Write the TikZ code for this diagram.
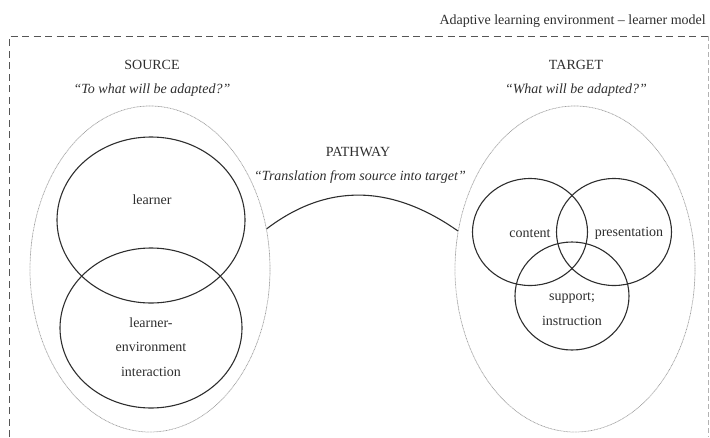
\documentclass[tikz,border=0pt]{standalone}
\usepackage{fontspec}
\setmainfont{Liberation Serif}
\usetikzlibrary{shapes.geometric}
\definecolor{ink}{HTML}{2E2E2E}
\definecolor{frame}{HTML}{555555}
\begin{document}
\begin{tikzpicture}[x=1pt,y=-1pt,
  font=\fontsize{14}{24.5}\selectfont, text=ink,
  region/.style={ellipse, draw=gray!75, line width=0.7pt,
    dash pattern=on 0.9pt off 0.6pt, inner sep=0pt},
  set/.style={ellipse, draw=ink, line width=1.1pt, inner sep=0pt},
  label/.style={anchor=base, inner sep=0pt},
  block/.style={align=center, inner sep=0pt},
  heading/.style={anchor=base, inner sep=0pt},
  question/.style={anchor=base, inner sep=0pt, font=\fontsize{14}{24.5}\selectfont\itshape}]
  \useasboundingbox (0,0) rectangle (710,437);

  % environment frame (open at the bottom)
  \draw[frame, line width=0.9pt, dash pattern=on 7pt off 4.5pt]
    (9,437) -- (9,36) -- (708,36);
  \draw[gray!60, line width=0.6pt, dash pattern=on 5pt off 3pt]
    (708,36) -- (708,437);
  \node[anchor=base east, inner sep=0pt] (title) at (706,24)
    {Adaptive learning environment – learner model};

  % source side
  \node[heading] (srchead) at (152,69) {SOURCE};
  \node[question] (srcq) at (152,93) {“To what will be adapted?”};
  \node[region, minimum width=240, minimum height=326] (src) at (150,269) {};
  \node[set, minimum width=188, minimum height=166] (learner) at (151,220) {};
  \node[set, minimum width=182, minimum height=160] (interact) at (151,328) {};
  \node[label] (learnertxt) at (152,204) {learner};
  \node[block] (interacttxt) at (151,347)
    {learner-\\environment\\interaction};

  % target side
  \node[heading] (tgthead) at (576,69) {TARGET};
  \node[question] (tgtq) at (576,93) {“What will be adapted?”};
  \node[region, minimum width=240, minimum height=326] (tgt) at (575,269) {};
  \node[set, minimum width=115, minimum height=107] (content) at (530,232) {};
  \node[set, minimum width=115, minimum height=107] (present) at (614,232) {};
  \node[set, minimum width=114, minimum height=108] (support) at (572,296) {};
  \node[label] (contenttxt) at (530,237) {content};
  \node[label] (presenttxt) at (629,236) {presentation};
  \node[block] (supporttxt) at (572,309) {support;\\instruction};

  % pathway between source and target
  \node[heading] (pathhead) at (358,156) {PATHWAY};
  \node[question] (pathq) at (360,180) {“Translation from source into target”};
  \draw[ink, line width=1.1pt]
    (src.19) .. controls (327,183) and (391,184) .. (tgt.162);
\end{tikzpicture}
\end{document}
